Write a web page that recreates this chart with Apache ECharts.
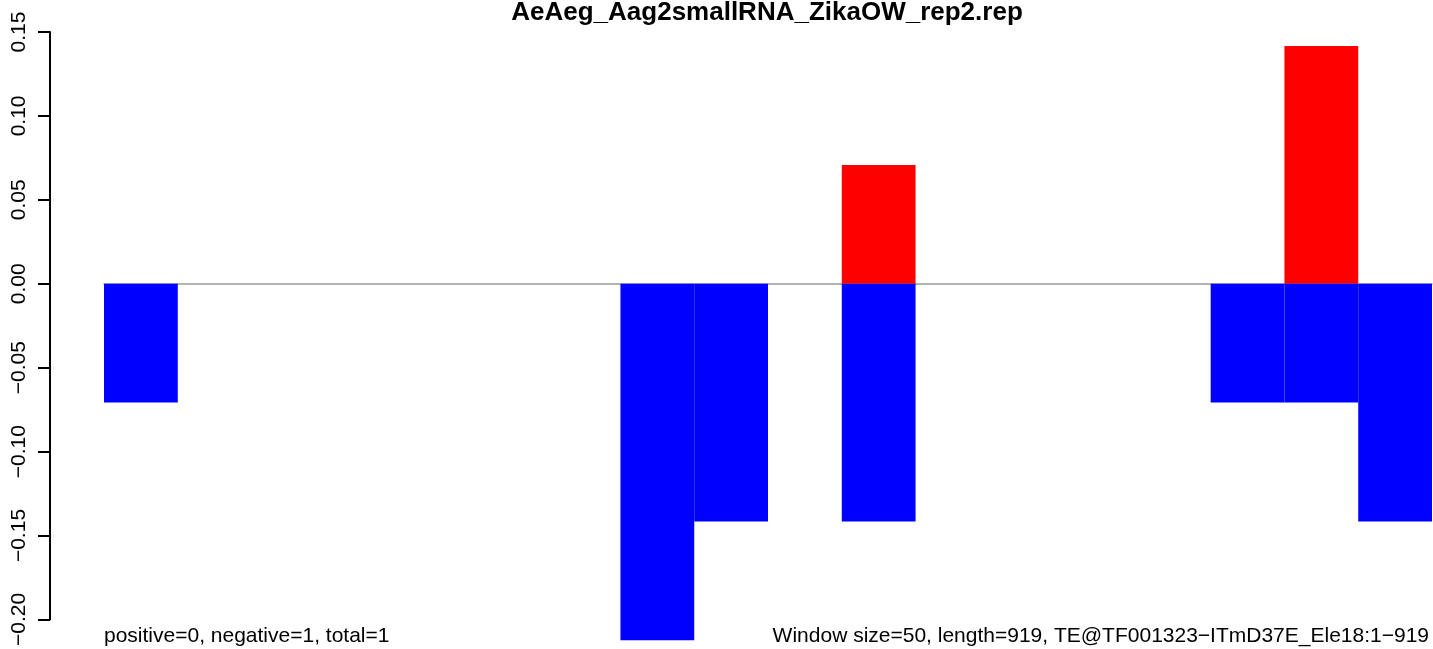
<!DOCTYPE html>
<html>
<head>
<meta charset="utf-8">
<script src="https://cdn.jsdelivr.net/npm/echarts@6/dist/echarts.min.js"></script>
<style>
html,body{margin:0;padding:0;background:#fff;}
#chart{width:1433px;height:649px;}
</style>
</head>
<body>
<div id="chart"></div>
<script>
// Window start positions (window size 50, length 919)
const windows = [0,50,100,150,200,250,300,350,400,450,500,550,600,650,700,750,800,850];
const positiveValues = [0,0,0,0,0,0,0,0,0,0,0.0708,0,0,0,0,0,0.1416,0];
const negativeValues = [-0.0708,0,0,0,0,0,0,-0.2124,-0.1416,0,-0.1416,0,0,0,0,-0.0708,-0.0708,-0.1416];
const yTicks = [-0.20,-0.15,-0.10,-0.05,0.00,0.05,0.10,0.15];
const titleText = 'AeAeg_Aag2smallRNA_ZikaOW_rep2.rep';
const leftNote = 'positive=0, negative=1, total=1';
const rightNote = 'Window size=50, length=919, TE@TF001323\u2212ITmD37E_Ele18:1\u2212919';

const FONT = 'Arial, "Liberation Sans", Helvetica, sans-serif';
const chart = echarts.init(document.getElementById('chart'), null, {renderer:'canvas'});
chart.setOption({
  animation:false,
  backgroundColor:'#ffffff',
  title:[
    {text:titleText, left:767, top:0, padding:0, textAlign:'center',
     textStyle:{fontFamily:FONT, fontWeight:'bold', fontSize:26, color:'#000'}},
    {text:leftNote, left:104, bottom:2, padding:0,
     textStyle:{fontFamily:FONT, fontWeight:'normal', fontSize:21, color:'#000'}},
    {text:rightNote, right:4, bottom:2, padding:0,
     textStyle:{fontFamily:FONT, fontWeight:'normal', fontSize:21, color:'#000'}}
  ],
  grid:{left:104, right:1, top:32, bottom:25, containLabel:false},
  xAxis:{
    type:'category', data:windows.map(String), boundaryGap:true,
    axisLine:{show:true, onZero:true, lineStyle:{color:'#999999', width:1.5}},
    axisTick:{show:false}, axisLabel:{show:false}, splitLine:{show:false}
  },
  yAxis:{
    type:'value', min:yTicks[0], max:yTicks[yTicks.length-1], interval:0.05,
    offset:54,
    axisLine:{show:true, lineStyle:{color:'#000', width:2}},
    axisTick:{show:true, length:12, lineStyle:{color:'#000', width:2}},
    splitLine:{show:false},
    axisLabel:{show:true, rotate:90, margin:20, fontFamily:FONT, fontSize:21, color:'#000',
      formatter:function(v){ return (v < -1e-9 ? '\u2212' : '') + Math.abs(v).toFixed(2); }}
  },
  series:[
    {name:'positive', type:'bar', data:positiveValues, barWidth:'100%', barGap:'-100%',
     clip:false, itemStyle:{color:'#ff0000'}, silent:true},
    {name:'negative', type:'bar', data:negativeValues, barWidth:'100%', barGap:'-100%',
     clip:false, itemStyle:{color:'#0000ff'}, silent:true}
  ]
});
</script>
</body>
</html>
